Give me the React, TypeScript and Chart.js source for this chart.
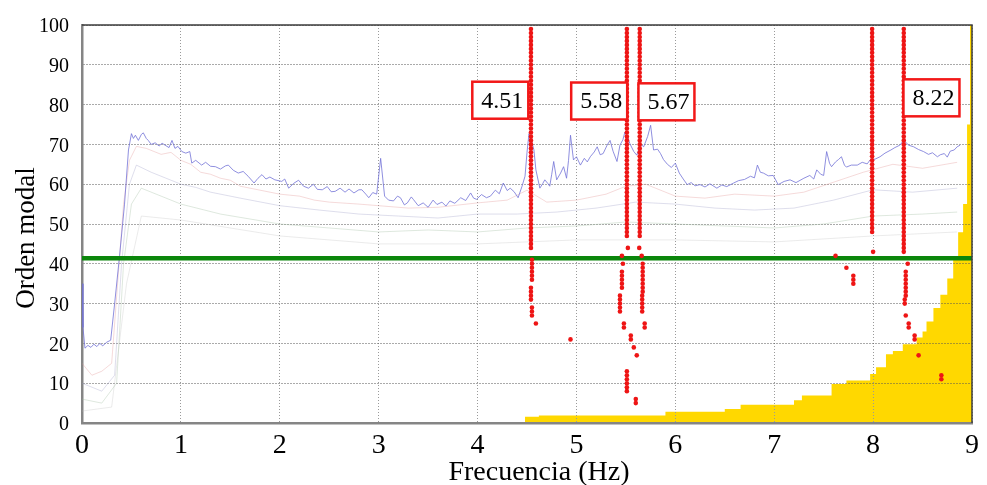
import React, { useEffect, useRef } from 'react';
import { Chart, registerables } from 'chart.js';

Chart.register(...registerables);

const FONT = "'Liberation Serif', 'Times New Roman', serif";

const xTitle = 'Frecuencia (Hz)';
const yTitle = 'Orden modal';
const xTicksMax = 9;
const yTicksMax = 100;

// main (blue) spectral trace: [frequency Hz, scaled level]
const blueTrace: [number, number][] = [
  [0.00, 35], [0.01, 24], [0.03, 18.8], [0.06, 19.5], [0.09, 19], [0.12, 19.8], [0.15, 19.2], [0.18, 20], [0.21, 19.4], [0.25, 20.3], [0.29, 20.8],
  [0.33, 30], [0.38, 42], [0.43, 55], [0.47, 68.6], [0.50, 72.7], [0.52, 71.5], [0.54, 72.3], [0.57, 71], [0.60, 72.5], [0.62, 72.9], [0.65, 71.5],
  [0.67, 71], [0.70, 70], [0.74, 70.4], [0.78, 69.6], [0.81, 70.3], [0.84, 69.8], [0.88, 69.2], [0.91, 71], [0.94, 69], [0.97, 69.5], [1.01, 68.2],
  [1.05, 67.8], [1.09, 68.2], [1.11, 65.3], [1.15, 66], [1.21, 64.8], [1.25, 65.5], [1.30, 64.5], [1.35, 64.4], [1.40, 63.8], [1.45, 64.6], [1.48, 64.8],
  [1.53, 63.5], [1.58, 62.8], [1.63, 63.2], [1.68, 62], [1.74, 60.3], [1.78, 61.5], [1.82, 62.4], [1.86, 61.3], [1.90, 61.8], [1.95, 61.1], [2.02, 60.7],
  [2.05, 61.3], [2.09, 59], [2.14, 60.2], [2.19, 61], [2.24, 59.5], [2.29, 59], [2.34, 60], [2.38, 58.7], [2.43, 58.6], [2.48, 59.4], [2.52, 58.1],
  [2.56, 58.2], [2.61, 59], [2.66, 58], [2.70, 58.8], [2.75, 57.8], [2.80, 58.6], [2.83, 58.6], [2.87, 57.5], [2.90, 56.6], [2.94, 57.9], [2.98, 57.5],
  [3.02, 66.5], [3.06, 57], [3.10, 56], [3.15, 55.8], [3.19, 57], [3.22, 56.6], [3.26, 54.8], [3.29, 55.3], [3.33, 56.8], [3.35, 56.2], [3.40, 54.6],
  [3.45, 55.3], [3.50, 54.2], [3.55, 56], [3.59, 54.9], [3.64, 55.5], [3.68, 54.5], [3.72, 55.8], [3.77, 55.2], [3.83, 56.6], [3.88, 55.9], [3.93, 57.8],
  [3.96, 56.5], [3.99, 56.2], [4.04, 57.4], [4.09, 56.6], [4.13, 57], [4.18, 58.5], [4.22, 57.6], [4.26, 60.3], [4.30, 58.4], [4.33, 59], [4.37, 58.1],
  [4.41, 56.6], [4.45, 59.5], [4.48, 62], [4.50, 68], [4.52, 72.7], [4.55, 70.5], [4.57, 68.6], [4.59, 63.6], [4.63, 59], [4.66, 60.2], [4.68, 61.1],
  [4.71, 60.2], [4.73, 59.5], [4.75, 62.5], [4.77, 65.7], [4.80, 61.1], [4.84, 62.8], [4.87, 64.4], [4.90, 61.5], [4.92, 66], [4.94, 72.3], [4.97, 66.1],
  [5.00, 66.9], [5.04, 64.8], [5.08, 66.5], [5.11, 65.6], [5.14, 66.9], [5.18, 68.1], [5.21, 69.4], [5.24, 67.4], [5.27, 67.7], [5.31, 69.8], [5.34, 71],
  [5.37, 68.3], [5.41, 65.7], [5.44, 69.8], [5.47, 71.2], [5.49, 73.1], [5.52, 71.8], [5.54, 70.2], [5.58, 68.2], [5.61, 67.3], [5.65, 70.1], [5.68, 69.4],
  [5.72, 72], [5.75, 74.8], [5.78, 68.6], [5.82, 68.8], [5.85, 67.7], [5.88, 66.2], [5.92, 65], [5.96, 64.2], [6.00, 65.3], [6.04, 62.8], [6.08, 61.3],
  [6.12, 59.9], [6.16, 60.4], [6.20, 59.6], [6.25, 59.9], [6.30, 59.3], [6.35, 60.1], [6.42, 59], [6.47, 59.8], [6.52, 59.4], [6.59, 60.3], [6.64, 60.9],
  [6.70, 61.2], [6.76, 62], [6.80, 61.6], [6.83, 64.8], [6.86, 63], [6.89, 62.8], [6.94, 62.1], [6.99, 62.2], [7.04, 59.9], [7.10, 60.7], [7.16, 61.1],
  [7.22, 60.4], [7.30, 61.5], [7.36, 62.2], [7.40, 61.3], [7.43, 63.6], [7.47, 62.5], [7.50, 62.2], [7.53, 68.2], [7.56, 65.2], [7.58, 64.4], [7.62, 65.6],
  [7.65, 66.2], [7.68, 66.9], [7.71, 64.8], [7.73, 64.3], [7.78, 64.8], [7.84, 64.8], [7.89, 65.5], [7.94, 65.1], [7.97, 66.1], [8.02, 66.3], [8.07, 66.9],
  [8.12, 67.8], [8.18, 68.6], [8.22, 69.2], [8.27, 69.8], [8.31, 71], [8.36, 69.8], [8.41, 69.4], [8.46, 68.7], [8.51, 68.2], [8.56, 67.5], [8.60, 67.9],
  [8.65, 66.9], [8.68, 67.4], [8.72, 67.7], [8.75, 66.8], [8.78, 68.3], [8.82, 68.6], [8.85, 69.4], [8.88, 69.8],
];

// faint secondary traces
const pinkTrace: [number, number][] = [
  [0.0, 15], [0.1, 12], [0.2, 13], [0.3, 15], [0.36, 35], [0.42, 55], [0.48, 66], [0.55, 69.5], [0.65, 69], [0.8, 67.5], [0.9, 68], [1.0, 66],
  [1.1, 65], [1.2, 63], [1.3, 62.5], [1.4, 61.5], [1.5, 61], [1.6, 59.5], [1.8, 58.5], [2.0, 57.5], [2.2, 57], [2.35, 56], [2.5, 55.5], [2.8, 55],
  [3.0, 54.6], [3.3, 54], [3.6, 54.2], [4.0, 55.3], [4.3, 56], [4.5, 58.5], [4.7, 55.5], [5.0, 56], [5.3, 57.5], [5.5, 59.5], [5.7, 60], [6.0, 57],
  [6.3, 56.5], [6.6, 57.5], [7.0, 57], [7.3, 58], [7.6, 60.5], [7.9, 63], [8.2, 65], [8.5, 64], [8.85, 65.5],
];
const greyTrace: [number, number][] = [
  [0.0, 10], [0.2, 8], [0.33, 12], [0.4, 40], [0.48, 60], [0.55, 64.8], [0.7, 63], [0.85, 61.5], [1.0, 60], [1.15, 59.2], [1.3, 58], [1.6, 56.5],
  [2.0, 54.6], [2.4, 53.5], [2.8, 52.5], [3.2, 52], [3.6, 51.5], [4.0, 52.5], [4.4, 52.5], [4.8, 53], [5.2, 54], [5.6, 55.5], [6.0, 55], [6.4, 54],
  [6.8, 53.5], [7.2, 54], [7.6, 56], [8.0, 58.6], [8.4, 58], [8.85, 59],
];
const greenTrace: [number, number][] = [
  [0.0, 6], [0.2, 5], [0.35, 10], [0.42, 40], [0.5, 55], [0.6, 59], [0.8, 57], [1.0, 55], [1.4, 52.5], [2.0, 50], [2.5, 49], [3.0, 48], [3.5, 48.5],
  [4.0, 48], [4.5, 49], [5.0, 49.5], [5.5, 50.5], [6.0, 50], [6.5, 49.5], [7.0, 49], [7.5, 50], [8.0, 52], [8.5, 52.5], [8.85, 53],
];
const lightTrace: [number, number][] = [
  [0.0, 3], [0.3, 4], [0.45, 35], [0.6, 52], [1.0, 51], [2.0, 47], [3.0, 45], [4.0, 45], [5.0, 46], [6.0, 46], [7.0, 45.5], [8.0, 47], [8.85, 48],
];

// stabilization threshold (horizontal green line)
const thresholdOrder = 41.4;

// stable poles: runs of consecutive model orders at one frequency [freq, fromOrder, toOrder]
const poleRuns: [number, number, number][] = [
  [4.54, 44, 99], [4.55, 36, 41], [4.54, 31, 34], [4.55, 27, 29],
  [5.51, 47, 99], [5.46, 34, 38], [5.44, 28, 32], [5.48, 24, 25], [5.55, 21, 22], [5.51, 8, 13], [5.60, 5, 6],
  [5.64, 47, 99], [5.67, 33, 40], [5.665, 28, 32], [5.69, 24, 25],
  [7.99, 48, 99], [7.80, 35, 37],
  [8.31, 43, 99], [8.33, 32, 38], [8.32, 30, 31], [8.36, 24, 25], [8.42, 21, 22], [8.69, 11, 12],
];
// isolated poles [freq, order]
const polesSingle: [number, number][] = [
  [4.59, 25], [4.94, 21], [5.52, 44], [5.46, 42], [5.47, 40], [5.58, 19], [5.61, 17], [5.635, 44], [5.66, 42],
  [8.00, 43], [7.62, 42], [7.73, 39], [8.35, 40], [8.33, 27], [8.46, 17],
];

// yellow area (step boundary) [freq where step begins, level]
const yellowSteps: [number, number][] = [
  [4.48, 0.6], [4.62, 1.6], [5.9, 1.9], [6.5, 2.8], [6.66, 3.5], [7.2, 4.6], [7.28, 5.7], [7.58, 6.9], [7.73, 9.8], [7.97, 10.7],
  [8.03, 12.3], [8.13, 14], [8.2, 17.3], [8.3, 18.1], [8.44, 19.8], [8.5, 21.5], [8.54, 23], [8.61, 25.5], [8.68, 28.9], [8.75, 32.2],
  [8.81, 36.3], [8.86, 41.3], [8.91, 47.9], [8.95, 55], [8.98, 75], [9.0, 100],
];

// peak labels
const peakLabels = ['4.51', '5.58', '5.67', '8.22'];
const peakLabelFreq = [4.23, 5.23, 5.91, 8.59];
const peakLabelOrder = [81.1, 80.9, 80.7, 81.7];

const toXY = (arr: [number, number][]) => arr.map(([x, y]) => ({ x, y }));

export default function App() {
  const ref = useRef<HTMLCanvasElement>(null);

  useEffect(() => {
    const canvas = ref.current;
    if (!canvas) return;

    const poles: { x: number; y: number }[] = [];
    poleRuns.forEach(([f, a, b]) => {
      for (let o = a; o <= b; o++) poles.push({ x: f, y: o });
    });
    polesSingle.forEach(([f, o]) => poles.push({ x: f, y: o }));

    const framePlugin = {
      id: 'frameAndTitles',
      afterDraw(chart: any) {
        const { ctx, chartArea: a } = chart;
        ctx.save();
        ctx.strokeStyle = '#3c3c3c';
        ctx.lineWidth = 1.5;
        ctx.beginPath();
        ctx.moveTo(a.left, a.top);
        ctx.lineTo(a.right, a.top);
        ctx.lineTo(a.right, a.bottom);
        ctx.stroke();

        ctx.fillStyle = '#000';
        ctx.font = `28px ${FONT}`;
        ctx.textAlign = 'center';
        ctx.textBaseline = 'alphabetic';
        ctx.fillText(xTitle, (a.left + a.right) / 2 + 12, chart.height - 5);

        ctx.translate(34, (a.top + a.bottom) / 2 + 14);
        ctx.rotate(-Math.PI / 2);
        ctx.font = `27px ${FONT}`;
        ctx.fillText(yTitle, 0, 0);
        ctx.restore();
      },
    };

    const labelPlugin = {
      id: 'peakLabels',
      afterDatasetsDraw(chart: any) {
        const { ctx, scales } = chart;
        ctx.save();
        peakLabels.forEach((txt, i) => {
          const cx = scales.x.getPixelForValue(peakLabelFreq[i]);
          const cy = scales.y.getPixelForValue(peakLabelOrder[i]);
          const w = 56, h = 37;
          ctx.fillStyle = '#fff';
          ctx.fillRect(cx - w / 2, cy - h / 2, w, h);
          ctx.strokeStyle = '#f21818';
          ctx.lineWidth = 2.5;
          ctx.strokeRect(cx - w / 2, cy - h / 2, w, h);
          ctx.fillStyle = '#000';
          ctx.font = `24px ${FONT}`;
          ctx.textAlign = 'left';
          ctx.textBaseline = 'middle';
          ctx.fillText(txt, cx - w / 2 + 9, cy + 1);
        });
        ctx.restore();
      },
    };

    const chart = new Chart(canvas, {
      type: 'scatter',
      data: {
        datasets: [
          {
            label: 'poles',
            data: poles,
            pointRadius: 2.3,
            pointBorderWidth: 0,
            pointBackgroundColor: '#ee1515',
            showLine: false,
          },
          {
            label: 'threshold',
            data: [{ x: 0, y: thresholdOrder }, { x: xTicksMax, y: thresholdOrder }],
            showLine: true,
            borderColor: '#0b860b',
            borderWidth: 4.5,
            pointRadius: 0,
          },
          {
            label: 'blue',
            data: toXY(blueTrace),
            showLine: true,
            borderColor: 'rgba(115,115,215,0.8)',
            borderWidth: 1,
            pointRadius: 0,
          },
          {
            label: 'pink',
            data: toXY(pinkTrace),
            showLine: true,
            borderColor: 'rgba(225,150,150,0.35)',
            borderWidth: 1,
            pointRadius: 0,
          },
          {
            label: 'grey',
            data: toXY(greyTrace),
            showLine: true,
            borderColor: 'rgba(160,160,200,0.35)',
            borderWidth: 1,
            pointRadius: 0,
          },
          {
            label: 'green',
            data: toXY(greenTrace),
            showLine: true,
            borderColor: 'rgba(160,190,160,0.35)',
            borderWidth: 1,
            pointRadius: 0,
          },
          {
            label: 'light',
            data: toXY(lightTrace),
            showLine: true,
            borderColor: 'rgba(190,190,190,0.3)',
            borderWidth: 1,
            pointRadius: 0,
          },
          {
            label: 'yellow',
            data: toXY(yellowSteps),
            showLine: true,
            stepped: 'after',
            borderWidth: 0,
            borderColor: 'rgba(0,0,0,0)',
            backgroundColor: '#ffd800',
            fill: 'origin',
            pointRadius: 0,
          },
        ] as any,
      },
      options: {
        responsive: false,
        animation: false,
        devicePixelRatio: 1,
        layout: { padding: { top: 20, right: 15, left: 0, bottom: 0 } },
        plugins: {
          legend: { display: false },
          tooltip: { enabled: false },
          filler: { drawTime: 'beforeDraw' },
        } as any,
        scales: {
          x: {
            type: 'linear',
            min: 0,
            max: xTicksMax,
            afterFit: (s: any) => { s.height = 62; },
            ticks: { stepSize: 1, font: { family: FONT, size: 28 }, color: '#000', padding: 6 },
            grid: { color: '#9a9a9a', lineWidth: 1, drawTicks: false },
            border: { display: true, color: '#858585', width: 2.5, dash: [1, 2] },
          },
          y: {
            type: 'linear',
            min: 0,
            max: yTicksMax,
            afterFit: (s: any) => { s.width = 82; },
            ticks: { stepSize: 10, font: { family: FONT, size: 20 }, color: '#000', padding: 13, labelOffset: 2 },
            grid: { color: '#555', lineWidth: 1, drawTicks: false },
            border: { display: true, color: '#858585', width: 2.5, dash: [1, 2] },
          },
        },
      } as any,
      plugins: [framePlugin, labelPlugin],
    });

    return () => chart.destroy();
  }, []);

  return (
    <div style={{ position: 'fixed', left: 0, top: 0, width: 987, height: 485, background: '#fff' }}>
      <canvas ref={ref} width={987} height={485} style={{ display: 'block' }} />
    </div>
  );
}
